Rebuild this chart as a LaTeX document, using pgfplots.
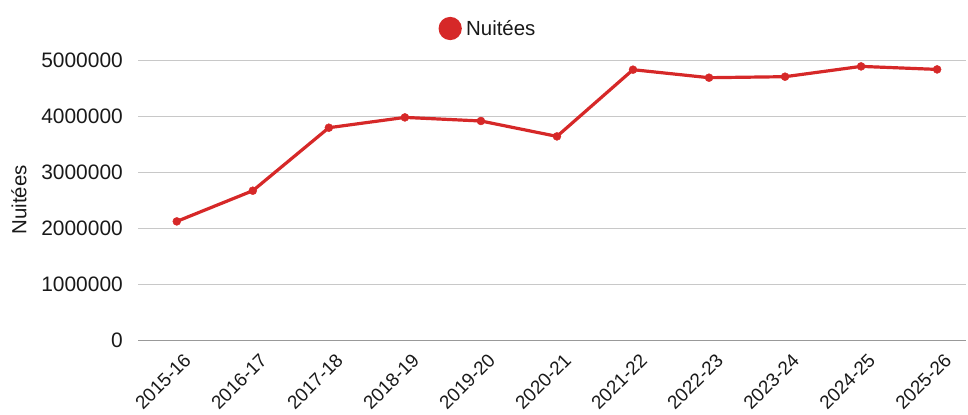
\documentclass[border=0pt]{standalone}
\usepackage{pgfplots}
\pgfplotsset{compat=1.18}
\usepackage{fontspec}
\setmainfont{Liberation Sans}
\definecolor{linered}{RGB}{214,40,40}
\definecolor{gridgray}{RGB}{200,200,200}
\definecolor{txt}{RGB}{25,25,25}
\begin{document}
\begin{tikzpicture}[x=1bp,y=1bp]
\begin{axis}[
  at={(138bp,74bp)}, anchor=south west,
  scale only axis, width=828bp, height=280bp,
  xmin=-0.51, xmax=10.38, ymin=0, ymax=5000000,
  xtick={0,...,10},
  xticklabels={2015-16,2016-17,2017-18,2018-19,2019-20,2020-21,2021-22,2022-23,2023-24,2024-25,2025-26},
  x tick label style={xshift=6bp, rotate=45, anchor=north east, inner sep=0pt, text=txt, font=\fontsize{19}{21}\selectfont},
  xticklabel shift=12bp,
  ytick={0,1000000,2000000,3000000,4000000,5000000},
  y tick label style={inner sep=0pt, text=txt, font=\fontsize{21}{23}\selectfont},
  yticklabel shift=15bp,
  /pgf/number format/assume math mode=true,
  yticklabel style={/pgf/number format/fixed, /pgf/number format/1000 sep={}},
  scaled y ticks=false,
  ymajorgrids, grid style={gridgray, line width=0.8bp},
  axis line style={draw=none},
  major tick length=0pt,
  ylabel={Nuitées}, ylabel style={text=txt, font=\fontsize{20.5}{22}\selectfont, at={(axis description cs:-0.1437,0.5)}, anchor=center},
  legend style={at={(axis description cs:0.4227,1.1125)}, anchor=center, draw=none, fill=none, text=txt, font=\fontsize{20.5}{22}\selectfont, legend cell align=left},
  legend image code/.code={\fill[linered] (10bp,0bp) circle (10bp); \path[draw=none] (0bp,0bp) -- (24bp,0bp);},
  clip=false,
]
\draw[gray!80, line width=0.9bp] (axis cs:-0.51,0) -- (axis cs:10.38,0);
\addplot[linered, line width=3.2bp, mark=*, mark size=4bp, mark options={fill=linered, draw=linered, line width=0.4bp}] coordinates {
(0,2118000) (1,2666000) (2,3791000) (3,3975000) (4,3911000) (5,3636000)
(6,4827000) (7,4684000) (8,4702000) (9,4886000) (10,4832000)
};
\addlegendentry{Nuitées}
\end{axis}
\path (0,0) rectangle (968,414);
\end{tikzpicture}
\end{document}
